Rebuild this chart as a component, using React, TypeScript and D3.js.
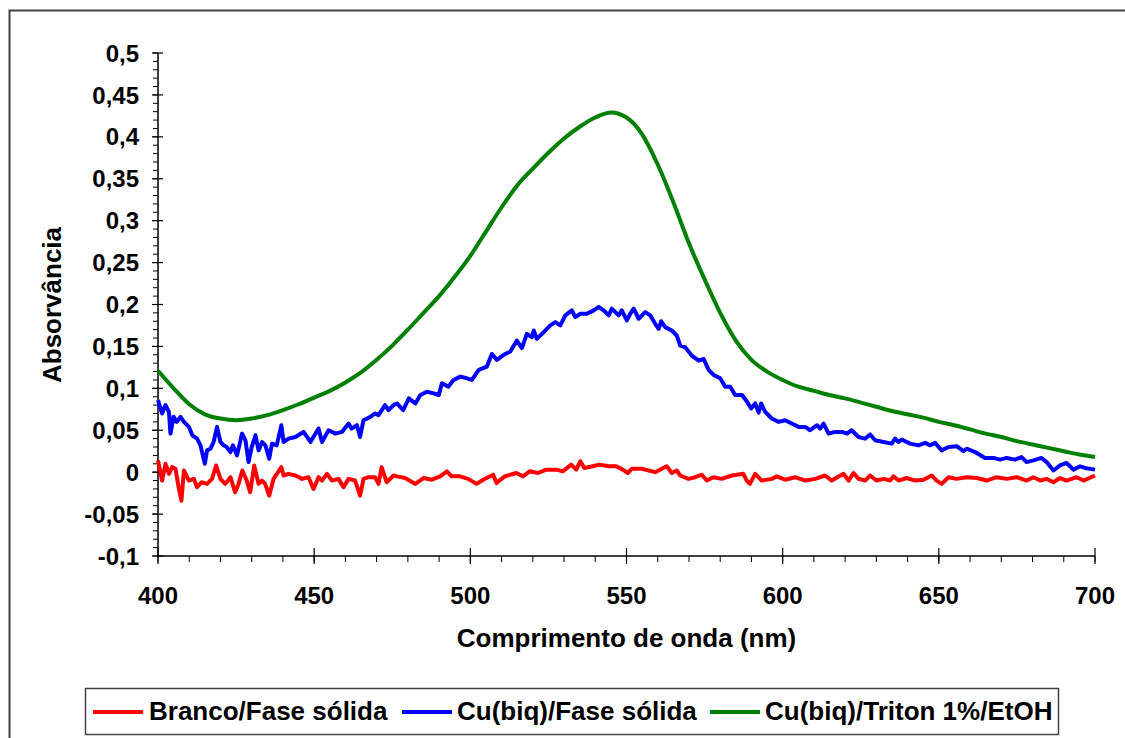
import React from "react";
import * as d3 from "d3";

const xTicks = [400, 450, 500, 550, 600, 650, 700];
const yTicks = [-0.1, -0.05, 0, 0.05, 0.1, 0.15, 0.2, 0.25, 0.3, 0.35, 0.4, 0.45, 0.5];
const seriesNames = ["Branco/Fase sólida", "Cu(biq)/Fase sólida", "Cu(biq)/Triton 1%/EtOH"];
const seriesColors = ["#ff0000", "#0000ff", "#008000"];

const greenNm = [400,405,410,415,420,425,430,435,440,445,450,455,460,465,470,475,480,485,490,495,500,505,510,515,520,525,530,535,540,545,550,555,560,565,570,575,580,585,590,595,600,605,610,615,620,625,630,635,640,645,650,655,660,665,670,675,680,685,690,695,700];
const greenAbs = [0.121,0.1,0.081,0.069,0.064,0.062,0.064,0.068,0.074,0.081,0.089,0.097,0.107,0.119,0.134,0.151,0.17,0.19,0.21,0.233,0.258,0.287,0.316,0.342,0.362,0.381,0.398,0.412,0.423,0.429,0.423,0.403,0.367,0.322,0.273,0.23,0.19,0.157,0.134,0.12,0.11,0.102,0.097,0.092,0.088,0.083,0.078,0.073,0.069,0.065,0.06,0.056,0.051,0.046,0.042,0.037,0.033,0.029,0.025,0.021,0.018];

const blueNm = [400,401.3,402.4,403.5,404,405,406,407.2,408.3,409.9,411,412.5,413.6,415,415.7,416.8,417.8,418.9,420,421,422,423.2,424,425.3,426.9,428,429,430,431.2,432.2,433.3,434.4,435.6,436.5,438,439.5,440.2,441.8,444,446.6,448.8,451.4,452.5,454.6,456.8,458.9,461,462,463.7,464.7,465.8,468,469.5,470.6,472.7,473.8,475.4,476.5,478.5,480.3,482.4,484,486.1,488.3,489.9,490.9,493,494.6,496.8,498.9,500.5,502.7,505.3,506.9,508.5,510.7,512.8,514.9,516.5,518.1,519.7,520.3,521.3,523.5,525.6,527.2,528.8,530.4,532.5,533.6,535.2,537.3,539.5,541.1,542.7,544.3,545.3,547.5,548.5,550.1,551.2,552.3,553.9,556,557.6,559.2,560.3,561.1,562.4,564.5,566.1,567.2,568.8,570.9,573.1,574.7,576.3,577.9,580,581.6,583.2,584.8,587,588.6,589.9,591.2,592.3,593.1,594.4,596.5,598.7,600.8,602.9,605.1,607.2,608.8,611,612,613.1,614.7,616.8,619,620.6,622.1,624.3,626.4,628,629.6,632.3,634.9,636,637.1,638.1,640.8,643.5,645.6,647.2,648.8,650.9,653.1,655.7,657.9,658.9,661.6,664.8,667.5,669.6,671.7,674.4,676.5,678.1,680.3,682.9,684.5,686.7,688.8,690.9,693.1,695.2,696.8,700];
const blueAbs = [0.086,0.07,0.08,0.072,0.046,0.066,0.06,0.066,0.06,0.054,0.044,0.04,0.032,0.01,0.026,0.028,0.036,0.054,0.036,0.032,0.03,0.024,0.032,0.02,0.046,0.038,0.012,0.03,0.044,0.026,0.036,0.032,0.016,0.034,0.032,0.056,0.036,0.04,0.042,0.048,0.036,0.052,0.036,0.05,0.046,0.048,0.058,0.052,0.056,0.042,0.062,0.066,0.07,0.068,0.08,0.074,0.08,0.082,0.074,0.088,0.082,0.092,0.096,0.094,0.092,0.106,0.102,0.11,0.114,0.112,0.11,0.122,0.126,0.141,0.134,0.14,0.144,0.157,0.148,0.165,0.161,0.169,0.159,0.167,0.175,0.179,0.175,0.187,0.193,0.185,0.189,0.189,0.193,0.197,0.193,0.187,0.195,0.187,0.193,0.181,0.189,0.195,0.183,0.191,0.187,0.177,0.171,0.18,0.173,0.169,0.163,0.151,0.149,0.139,0.133,0.135,0.122,0.116,0.112,0.102,0.102,0.092,0.092,0.084,0.076,0.082,0.071,0.082,0.072,0.064,0.06,0.062,0.058,0.054,0.054,0.05,0.056,0.052,0.058,0.046,0.048,0.048,0.046,0.05,0.042,0.04,0.045,0.038,0.036,0.034,0.04,0.036,0.039,0.034,0.032,0.035,0.032,0.035,0.026,0.03,0.031,0.025,0.028,0.024,0.017,0.017,0.015,0.017,0.015,0.018,0.012,0.014,0.017,0.012,0.002,0.008,0.011,0.003,0.007,0.005,0.003];

const redNm = [400,401.3,402.4,403.5,404.5,405.6,406.6,407.5,408.3,409.9,411.5,412.5,414,415.7,417.3,418.6,420,421.5,423.2,424.7,425.8,427,428.4,429.5,430.8,432.2,433.3,434.3,435.6,437,439.5,440.2,441.8,444,446.1,448.2,449.8,451.4,452.5,454.1,455.7,457.8,459.4,461,463.1,464.7,465.8,467.4,469.5,470.6,471.6,473.2,475.4,476.5,479.1,482.4,485,487.7,490.3,492.5,494,496.7,499.3,502,504.1,507.3,508.4,511,514.7,516.9,519,521.7,524.3,527.5,529.6,532.3,533.9,535.2,536.5,539.2,541.3,544.5,546.7,548.8,550.4,551.7,554.9,559.2,561.3,562.9,564.5,566.1,567.2,569.8,572,574.1,575.7,577.8,580.5,583.7,587.4,588.5,589.5,591.2,593.3,596.5,598.1,600.8,604,607.2,610.4,613.6,615.7,619.5,621.1,622.7,624.3,626.4,628,630.1,632.3,634.4,635.5,637.1,639.7,642.4,645.1,647.7,649.3,650.9,653.1,655.7,658.9,662.1,665.3,668.5,671.7,674.9,678.1,680.3,682.4,684.5,686.7,688.8,690.9,694.1,696.3,700];
const redAbs = [0.014,-0.01,0.01,-0.002,0.006,0.004,-0.018,-0.034,0.002,-0.01,-0.008,-0.018,-0.012,-0.014,-0.008,0.008,-0.008,-0.014,-0.006,-0.024,-0.014,0.002,-0.01,-0.024,0.008,-0.014,-0.01,-0.014,-0.028,-0.008,0.006,-0.004,-0.002,-0.004,-0.008,-0.006,-0.02,-0.006,-0.01,-0.002,-0.01,-0.008,-0.018,-0.008,-0.01,-0.028,-0.008,-0.006,-0.006,-0.014,0.006,-0.012,-0.004,-0.005,-0.007,-0.014,-0.007,-0.009,-0.005,0.001,-0.005,-0.005,-0.008,-0.014,-0.009,-0.003,-0.013,-0.005,-0.001,-0.005,0.001,-0.001,0.003,0.003,0.001,0.009,0.003,0.013,0.005,0.007,0.009,0.007,0.007,0.003,-0.001,0.004,0.004,0,0.004,0.007,-0.001,0.002,-0.004,-0.008,-0.006,-0.003,-0.01,-0.006,-0.008,-0.004,-0.002,-0.01,-0.014,-0.002,-0.01,-0.008,-0.005,-0.009,-0.006,-0.01,-0.008,-0.004,-0.01,-0.002,-0.01,-0.001,-0.008,-0.01,-0.004,-0.01,-0.008,-0.01,-0.005,-0.01,-0.007,-0.01,-0.009,-0.004,-0.01,-0.014,-0.006,-0.008,-0.006,-0.007,-0.01,-0.006,-0.008,-0.006,-0.01,-0.006,-0.01,-0.008,-0.012,-0.007,-0.01,-0.006,-0.01,-0.004];

const W = 1125, H = 738;
const left = 158, right = 1095, top = 53, bottom = 556;
const FONT = "'Liberation Sans', Arial, sans-serif";

export default function App() {
  const x = d3.scaleLinear().domain([400, 700]).range([left, right]);
  const y = d3.scaleLinear().domain([-0.1, 0.5]).range([bottom, top]);
  const lineLin = d3.line<[number, number]>().x(d => x(d[0])).y(d => y(d[1]));
  const lineSmooth = d3.line<[number, number]>().x(d => x(d[0])).y(d => y(d[1])).curve(d3.curveMonotoneX);
  const zip = (a: number[], b: number[]) => a.map((v, i) => [v, b[i]] as [number, number]);
  const series = [
    { name: seriesNames[0], color: seriesColors[0], d: lineLin(zip(redNm, redAbs)) },
    { name: seriesNames[1], color: seriesColors[1], d: lineLin(zip(blueNm, blueAbs)) },
    { name: seriesNames[2], color: seriesColors[2], d: lineSmooth(zip(greenNm, greenAbs)) },
  ];
  const xMinor = d3.range(400, 701, 10);
  const yMinor = d3.range(-10, 51, 1).map(v => v / 100);
  const fmt = (v: number) => String(Math.round(v * 100) / 100).replace(".", ",");
  const legendItems = [
    { lx: 93, tx: 149 },
    { lx: 402, tx: 457 },
    { lx: 710, tx: 765 },
  ];
  return (
    <svg width={W} height={H} style={{ display: "block", position: "absolute", left: 0, top: 0 }} fontFamily={FONT}>
      <rect x={0} y={0} width={W} height={H} fill="#fff" />
      <rect x={9.5} y={10.5} width={W + 20} height={H + 20} fill="none" stroke="#444" strokeWidth={2} />
      {/* y axis */}
      <line x1={left} x2={left} y1={top} y2={bottom} stroke="#000" strokeWidth={1.5} />
      {yMinor.map((v, i) => (
        <line key={"ym" + i} x1={left - 5} x2={left} y1={y(v)} y2={y(v)} stroke="#000" strokeWidth={1} />
      ))}
      {yTicks.map((v, i) => (
        <g key={"yt" + i}>
          <line x1={left - 6} x2={left + 5} y1={y(v)} y2={y(v)} stroke="#000" strokeWidth={1.2} />
          <text x={139} y={y(v)} dy="0.36em" textAnchor="end" fontSize={24} fontWeight="bold">{fmt(v)}</text>
        </g>
      ))}
      {/* x axis */}
      <line x1={left} x2={right} y1={bottom} y2={bottom} stroke="#000" strokeWidth={1.5} />
      {xMinor.map((v, i) => (
        <line key={"xm" + i} x1={x(v)} x2={x(v)} y1={bottom} y2={bottom + 6} stroke="#000" strokeWidth={1} />
      ))}
      {xTicks.map((v, i) => (
        <g key={"xt" + i}>
          <line x1={x(v)} x2={x(v)} y1={bottom - 8} y2={bottom + 8} stroke="#000" strokeWidth={1.2} />
          <text x={x(v)} y={603.5} textAnchor="middle" fontSize={24} fontWeight="bold">{v}</text>
        </g>
      ))}
      <text x={(left + right) / 2} y={647} textAnchor="middle" fontSize={26} fontWeight="bold">Comprimento de onda (nm)</text>
      <text transform="translate(61,305) rotate(-90)" textAnchor="middle" fontSize={26} fontWeight="bold">Absorvância</text>
      {series.map((s, i) => (
        <path key={"s" + i} d={s.d || ""} fill="none" stroke={s.color} strokeWidth={4} strokeLinejoin="round" />
      ))}
      {/* legend */}
      <rect x={85.5} y={688.5} width={973} height={46} fill="#fff" stroke="#444" strokeWidth={1.5} />
      {series.map((s, i) => (
        <g key={"lg" + i}>
          <line x1={legendItems[i].lx} x2={legendItems[i].lx + 50} y1={712} y2={712} stroke={s.color} strokeWidth={4} />
          <text x={legendItems[i].tx} y={719.5} fontSize={26} fontWeight="bold">{s.name}</text>
        </g>
      ))}
    </svg>
  );
}
